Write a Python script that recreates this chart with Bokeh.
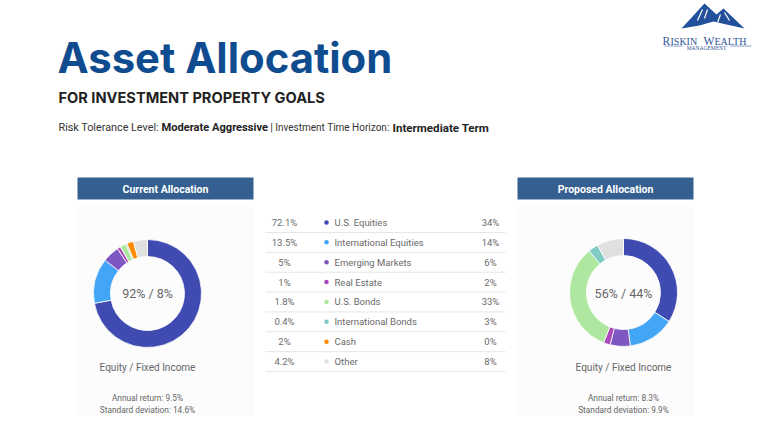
import math
from bokeh.plotting import figure
from bokeh.models import Range1d, ColumnDataSource
from bokeh.core.properties import value
from bokeh.embed import file_html
from bokeh.resources import INLINE

# ---------------- data ----------------
categories = ["U.S. Equities", "International Equities", "Emerging Markets", "Real Estate",
              "U.S. Bonds", "International Bonds", "Cash", "Other"]
current_pct = [72.1, 13.5, 5, 1, 1.8, 0.4, 2, 4.2]
current_labels = ["72.1%", "13.5%", "5%", "1%", "1.8%", "0.4%", "2%", "4.2%"]
proposed_pct = [34, 14, 6, 2, 33, 3, 0, 8]
proposed_labels = ["34%", "14%", "6%", "2%", "33%", "3%", "0%", "8%"]
colors = ["#3f4bb0", "#42a5f5", "#7e57c2", "#ab47bc", "#aee8a0", "#80cbc4", "#fb8c00", "#e0e0e0"]
current_split = "92% / 8%"
proposed_split = "56% / 44%"
current_stats = ["Annual return: 9.5%", "Standard deviation: 14.6%"]
proposed_stats = ["Annual return: 8.3%", "Standard deviation: 9.9%"]

W, H = 752, 416


def Y(v):
    return H - v


p = figure(width=W, height=H, x_range=Range1d(0, W), y_range=Range1d(0, H),
           output_backend="svg", toolbar_location=None, min_border=0)
p.axis.visible = False
p.grid.visible = False
p.outline_line_color = None
p.background_fill_color = "white"
p.border_fill_color = "white"

SANS = "Roboto"
TITLE_FONT = "Inter"


def txt(x, y, s, size, color, bold=False, align="left", font=SANS, baseline="alphabetic"):
    p.text(x=[x], y=[Y(y)], text=[s], text_font=value(font), text_font_size=value(size),
           text_color=color, text_font_style="bold" if bold else "normal",
           text_align=align, text_baseline=baseline)


# ---------------- header ----------------
txt(57, 57, "Asset Allocation", "41.8px", "#0f4c8f", bold=True, font=TITLE_FONT)
txt(58, 97, "FOR INVESTMENT PROPERTY GOALS", "14.6px", "#222222", bold=True, font=TITLE_FONT)
txt(58, 127, "Risk Tolerance Level:", "10.8px", "#333333")
txt(161, 127, "Moderate Aggressive", "11.1px", "#222222", bold=True)
txt(271, 127, "|", "10.6px", "#333333", align="center")
txt(389, 127, "Investment Time Horizon:", "10px", "#333333", align="right")
txt(392, 127, "Intermediate Term", "11.6px", "#222222", bold=True)

# ---------------- logo ----------------
dx = -9
p.patch(x=[v + dx for v in [690, 713, 725, 732, 753, 735, 722, 708]],
        y=[Y(28), Y(3), Y(14), Y(8), Y(28), Y(24), Y(21), Y(25)],
        fill_color="#22509a", line_color=None)
p.multi_line(xs=[[711 + dx, 706 + dx], [716 + dx, 713 + dx], [729 + dx, 726 + dx], [733 + dx, 738 + dx]],
             ys=[[Y(9), Y(20)], [Y(9), Y(18)], [Y(14), Y(22)], [Y(12), Y(20)]],
             line_color="white", line_width=1.2)
LOGO = "#2f5597"
txt(671 + dx, 40.5, "R", "11.5px", LOGO, font="Liberation Serif")
txt(679 + dx, 40.5, "ISKIN", "10px", LOGO, font="Liberation Serif")
txt(712 + dx, 40.5, "W", "11.5px", LOGO, font="Liberation Serif")
txt(723 + dx, 40.5, "EALTH", "10px", LOGO, font="Liberation Serif")
txt(715 + dx, 47.5, "MANAGEMENT", "5.5px", LOGO, align="center", font="Liberation Serif")
p.multi_line(xs=[[673 + dx, 691 + dx], [739 + dx, 760 + dx]], ys=[[Y(45.5), Y(45.5)], [Y(45.5), Y(45.5)]],
             line_color="#6d8cc0", line_width=0.8)

# ---------------- panels ----------------
for x0 in (77, 517):
    p.quad(left=[x0], right=[x0 + 176], top=[Y(206)], bottom=[Y(422)], fill_color="#fcfcfc", line_color=None)
    p.quad(left=[x0], right=[x0 + 176], top=[Y(177)], bottom=[Y(199)], fill_color="#345f90", line_color=None)
txt(165, 188.5, "Current Allocation", "10.5px", "white", bold=True, align="center", baseline="middle")
txt(605, 188.5, "Proposed Allocation", "10.5px", "white", bold=True, align="center", baseline="middle")


def donut(cx, cy, vals):
    total = float(sum(vals))
    starts, ends, cols = [], [], []
    cum = 0.0
    for v, c in zip(vals, colors):
        if v > 0:
            starts.append(math.pi / 2 - 2 * math.pi * (cum + v) / total)
            ends.append(math.pi / 2 - 2 * math.pi * cum / total)
            cols.append(c)
        cum += v
    src = ColumnDataSource(dict(start=starts, end=ends, color=cols))
    p.annular_wedge(x=cx, y=Y(cy), inner_radius=37, outer_radius=54, start_angle="start", end_angle="end",
                    fill_color="color", line_color="white", line_width=0.8, source=src)


donut(147, 293, current_pct)
donut(623, 292, proposed_pct)

GREY = "#666666"
for cx, split, stats in ((147, current_split, current_stats), (623, proposed_split, proposed_stats)):
    txt(cx, 292.5, split, "12.5px", GREY, align="center", baseline="middle")
    txt(cx, 366.5, "Equity / Fixed Income", "10px", GREY, align="center", baseline="middle")
    txt(cx, 397.5, stats[0], "8.3px", GREY, align="center", baseline="middle")
    txt(cx, 409.5, stats[1], "8.3px", GREY, align="center", baseline="middle")

# ---------------- table ----------------
row_h = 19.86
ys = [222 + i * row_h for i in range(len(categories))]
p.segment(x0=[265] * len(ys), x1=[505] * len(ys), y0=[Y(y + 10) for y in ys], y1=[Y(y + 10) for y in ys],
          line_color="#e6e6e6", line_width=1)
p.text(x=[284] * len(ys), y=[Y(y) for y in ys], text=current_labels, text_font=value(SANS),
       text_font_size=value("9.5px"), text_color="#6a6a6a", text_align="center", text_baseline="middle")
p.scatter(x=[326] * len(ys), y=[Y(y) for y in ys], size=4.5, fill_color=colors, line_color=None)
p.text(x=[334] * len(ys), y=[Y(y) for y in ys], text=categories, text_font=value(SANS),
       text_font_size=value("9.5px"), text_color="#6a6a6a", text_align="left", text_baseline="middle")
p.text(x=[490] * len(ys), y=[Y(y) for y in ys], text=proposed_labels, text_font=value(SANS),
       text_font_size=value("9.5px"), text_color="#6a6a6a", text_align="center", text_baseline="middle")

open("out.html", "w").write(file_html(p, INLINE))
